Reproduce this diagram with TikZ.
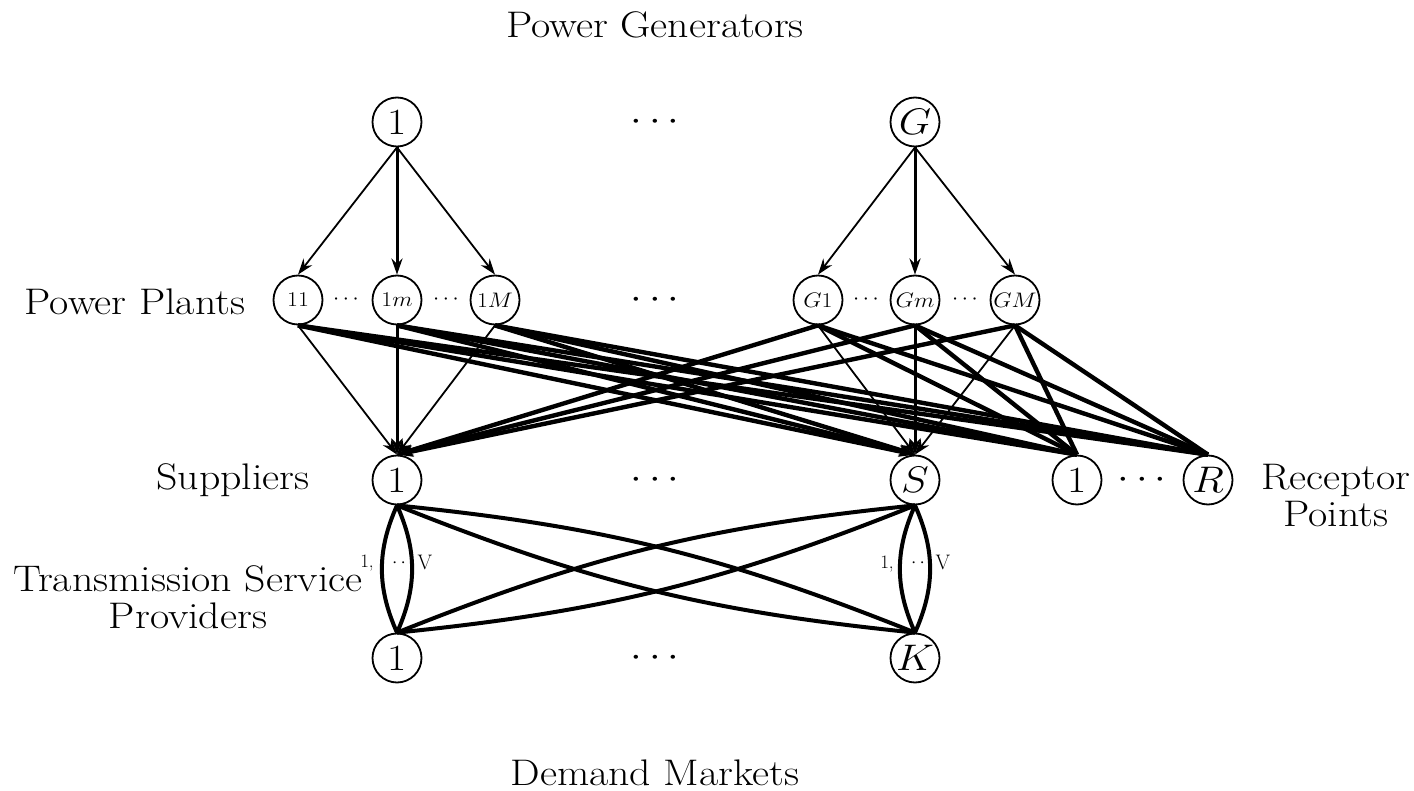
\RequirePackage{fix-cm}
\documentclass[tikz,border=0pt]{standalone}
\usetikzlibrary{arrows.meta}
\newcommand{\wdtxt}[1]{\scalebox{1.13}[1]{#1}}
\begin{document}
\begin{tikzpicture}[x=1pt,y=-1pt,
  big/.style={circle,draw,line width=1.8pt,minimum size=49pt,inner sep=0pt,font=\fontsize{37}{40}\selectfont},
  small/.style={circle,draw,line width=1.8pt,minimum size=49pt,inner sep=0pt,font=\fontsize{21}{22}\selectfont},
  lab/.style={font=\fontsize{37}{37}\selectfont,align=center},
  dotsbig/.style={font=\fontsize{37}{40}\selectfont},
  dotssmall/.style={font=\fontsize{22}{24}\selectfont},
  tip/.style={-{Stealth[length=16pt,width=11pt]}},
  fedge/.style={line width=1.8pt},
  medge/.style={line width=3pt},
  kedge/.style={line width=4.4pt},
  tedge/.style={line width=4pt},
  tlab/.style={font=\fontsize{19}{22}\selectfont,inner sep=0pt},
]
\useasboundingbox (0,0) rectangle (1414,791);

% titles and row labels
\node[lab] (tgen) at (655,25) {\wdtxt{Power Generators}};
\node[lab] (tdem) at (655,773) {\wdtxt{Demand Markets}};
\node[lab] (tpp) at (135,302) {\wdtxt{Power Plants}};
\node[lab] (tsup) at (233,480) {\wdtxt{Suppliers}};
\node[lab] (ttsp) at (188,597) {\wdtxt{Transmission Service}\\\wdtxt{Providers}};
\node[lab] (trp) at (1336,496) {\wdtxt{Receptor}\\\wdtxt{Points}};

% generators
\node[big] (g1) at (397,122) {\wdtxt{1}};
\node[big] (gG) at (915,122) {\wdtxt{$G$}};
\node[dotsbig] (dg) at (655,122) {\wdtxt{$\cdots$}};

% power plants
\node[small] (p11) at (298,300) {\wdtxt{11}};
\node[small] (p1m) at (397,300) {\wdtxt{$1m$}};
\node[small] (p1M) at (495,300) {\wdtxt{$1M$}};
\node[small] (pG1) at (818,300) {\wdtxt{$G1$}};
\node[small] (pGm) at (915,300) {\wdtxt{$Gm$}};
\node[small] (pGM) at (1015,300) {\wdtxt{$GM$}};
\node[dotssmall] (dpa) at (346,300) {$\cdots$};
\node[dotssmall] (dpb) at (446,300) {$\cdots$};
\node[dotssmall] (dpc) at (866,300) {$\cdots$};
\node[dotssmall] (dpd) at (965,300) {$\cdots$};
\node[dotsbig] (dpm) at (655,300) {\wdtxt{$\cdots$}};

% suppliers and receptor points
\node[big] (s1) at (397,480) {\wdtxt{1}};
\node[big] (sS) at (915,480) {\wdtxt{$S$}};
\node[dotsbig] (ds) at (655,480) {\wdtxt{$\cdots$}};
\node[big] (r1) at (1077,480) {\wdtxt{1}};
\node[big] (rR) at (1208,480) {\wdtxt{$R$}};
\node[dotsbig] (dr) at (1142,480) {\wdtxt{$\cdots$}};

% demand markets
\node[big] (d1) at (397,658) {\wdtxt{1}};
\node[big] (dK) at (915,658) {\wdtxt{$K$}};
\node[dotsbig] (dd) at (655,658) {\wdtxt{$\cdots$}};

% generator -> plant
\draw[fedge,tip] (g1.south) -- (p11.north);
\draw[medge,tip] (g1.south) -- (p1m.north);
\draw[fedge,tip] (g1.south) -- (p1M.north);
\draw[fedge,tip] (gG.south) -- (pG1.north);
\draw[medge,tip] (gG.south) -- (pGm.north);
\draw[fedge,tip] (gG.south) -- (pGM.north);

% plant -> receptor points
\foreach \p in {p11,p1m,p1M,pG1,pGm,pGM}{
  \draw[kedge] (\p.south) -- (r1.north);
  \draw[kedge] (\p.south) -- (rR.north);
}
% plant -> far supplier
\foreach \p in {p11,p1m,p1M}{
  \draw[kedge,tip] (\p.south) -- (sS.north);
}
\foreach \p in {pG1,pGm,pGM}{
  \draw[kedge,tip] (\p.south) -- (s1.north);
}
% plant -> near supplier
\draw[fedge,tip] (p11.south) -- (s1.north);
\draw[medge,tip] (p1m.south) -- (s1.north);
\draw[fedge,tip] (p1M.south) -- (s1.north);
\draw[fedge,tip] (pG1.south) -- (sS.north);
\draw[medge,tip] (pGm.south) -- (sS.north);
\draw[fedge,tip] (pGM.south) -- (sS.north);

% transmission links
\draw[tedge] (s1.south) to[bend left=24] (d1.north);
\draw[tedge] (s1.south) to[bend right=24] (d1.north);
\draw[tedge] (sS.south) to[bend left=24] (dK.north);
\draw[tedge] (sS.south) to[bend right=24] (dK.north);
\draw[tedge] (s1.south) to[bend left=8] (dK.north);
\draw[tedge] (s1.south) to[bend right=8] (dK.north);
\draw[tedge] (sS.south) to[bend left=8] (d1.north);
\draw[tedge] (sS.south) to[bend right=8] (d1.north);

% transmission labels
\node[tlab] (la1) at (367,563) {1,};
\node[tlab] (la2) at (399,563) {$\cdot\,\cdot$};
\node[tlab,font=\fontsize{21}{24}\selectfont] (la3) at (425,562) {V};
\node[tlab] (lb1) at (887,564) {1,};
\node[tlab] (lb2) at (918,563) {$\cdot\,\cdot$};
\node[tlab,font=\fontsize{21}{24}\selectfont] (lb3) at (943,562) {V};
\end{tikzpicture}
\end{document}
